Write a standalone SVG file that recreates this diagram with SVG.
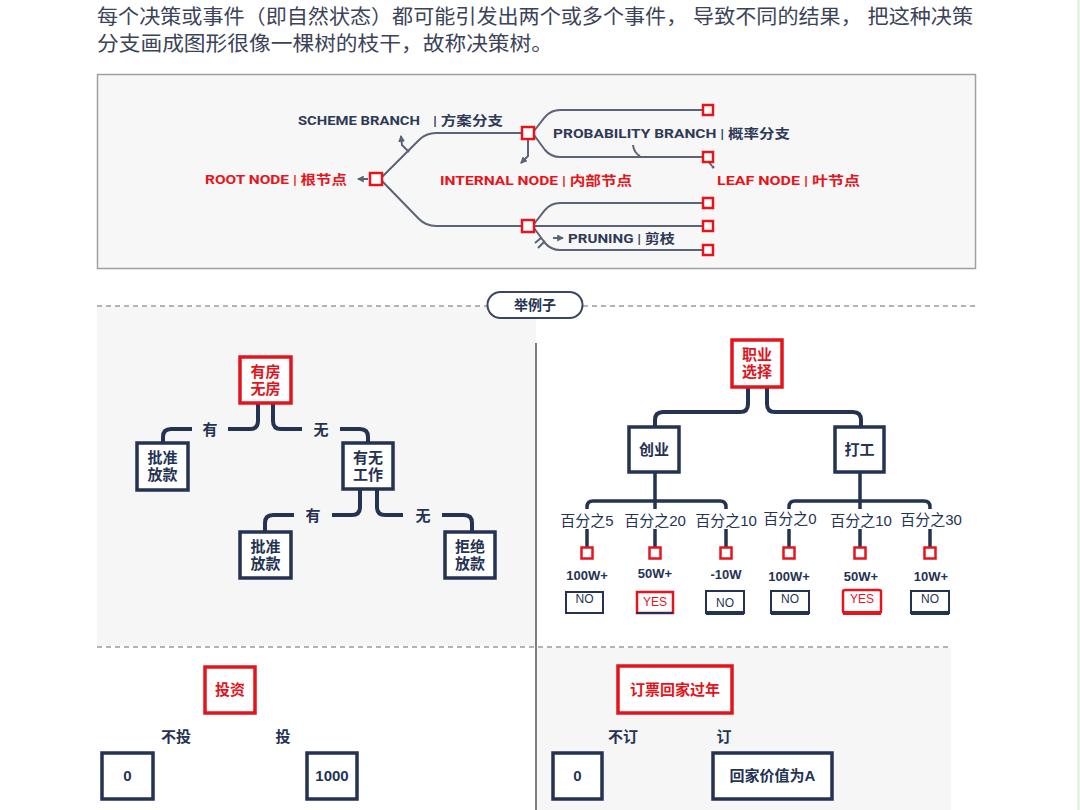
<svg xmlns="http://www.w3.org/2000/svg" width="1080" height="810" viewBox="0 0 1080 810">
<defs>
<marker id="ah" viewBox="0 0 6 6" refX="5" refY="3" markerWidth="3.5" markerHeight="3.5" orient="auto"><path d="M0,0 L6,3 L0,6 Z" fill="#5b6477"/></marker>
<style>
.cn{font-family:"Liberation Sans","Noto Sans CJK SC",sans-serif}
.lbl{font-family:Roboto,"Liberation Sans","Noto Sans CJK SC",sans-serif;font-size:13px;font-weight:bold}
.nv{fill:#2f3a56}
.rd{fill:#e8141b}
.br{fill:none;stroke:#5b6477;stroke-width:2}
.sq{fill:#fff;stroke:#e8141b;stroke-width:2.5}
.tl{fill:none;stroke:#253353;stroke-width:4}
.tl2{fill:none;stroke:#253353;stroke-width:3.5}
.bx{fill:#fff;stroke:#253353;stroke-width:3.5}
.rbx{fill:#fff;stroke:#e3141b;stroke-width:3.5}
.bt{font-family:"Liberation Sans","Noto Sans CJK SC",sans-serif;font-size:15px;font-weight:bold;fill:#253353;text-anchor:middle}
.rbt{font-family:"Liberation Sans","Noto Sans CJK SC",sans-serif;font-size:15px;font-weight:bold;fill:#e3141b;text-anchor:middle}
.pct{font-family:"Liberation Sans","Noto Sans CJK SC",sans-serif;font-size:15px;fill:#253353;text-anchor:middle}
.val{font-family:"Liberation Sans","Noto Sans CJK SC",sans-serif;font-size:13px;font-weight:bold;fill:#253353;text-anchor:middle}
.ans{fill:#fff;stroke:#253353;stroke-width:2}
.rans{fill:#fff;stroke:#e8141b;stroke-width:2.5}
.at{font-family:"Liberation Sans",sans-serif;font-size:12px;fill:#253353;text-anchor:middle}
.rat{font-family:"Liberation Sans",sans-serif;font-size:12px;fill:#e8141b;text-anchor:middle}
.dash{stroke:#9a9a9a;stroke-width:1.5;stroke-dasharray:5 4;fill:none}
</style>
</defs>
<rect width="1080" height="810" fill="#fff"/>
<line x1="1078.5" y1="0" x2="1078.5" y2="810" stroke="#d8f0d8" stroke-width="2"/>

<!-- intro text -->
<g id="intro" class="cn" font-size="20" fill="#3b4358">
<text x="97" y="24" textLength="876" lengthAdjust="spacingAndGlyphs">每个决策或事件（即自然状态）都可能引发出两个或多个事件，  导致不同的结果，  把这种决策</text>
<text x="97" y="51" textLength="456" lengthAdjust="spacingAndGlyphs">分支画成图形很像一棵树的枝干，故称决策树。</text>
</g>

<!-- top legend diagram -->
<rect x="97.5" y="74.5" width="878" height="194" fill="#f7f7f7" stroke="#a0a0a0" stroke-width="1.5"/>
<g id="legend-connectors">
<path class="br" d="M382,177 L419,140 Q426,133 436,133 L522,133"/>
<path class="br" d="M382,181 L419,219 Q426,226 436,226 L522,226"/>
<path class="br" d="M534,131 L545,117 Q551,110 560,110 L703,110"/>
<path class="br" d="M534,135 L545,150 Q551,157 560,157 L703,157"/>
<path class="br" d="M534,224 L545,210 Q551,203 560,203 L703,203"/>
<path class="br" d="M534,226 L703,226"/>
<path class="br" d="M534,228 L545,243 Q551,250 560,250 L703,250"/>
<path class="br" d="M409,152 L402,145 L401,136" marker-end="url(#ah)" stroke-width="1.5"/>
<path class="br" d="M528,139 L528,156 L521,163" marker-end="url(#ah)" stroke-width="1.5"/>
<path class="br" d="M633,145 Q634,153 640,156" stroke-width="1.5"/>
<path class="br" d="M708,161 L712,166" stroke-width="1.5"/>
<circle cx="713" cy="167" r="1.5" fill="#5b6477"/>
<path class="br" d="M368,179 L358,179" marker-end="url(#ah)" stroke-width="1.5"/>
<path class="br" d="M535,243 L541,238 M538,248 L545,241" stroke-width="1.3"/>
<path class="br" d="M553,238 L563,238" marker-end="url(#ah)" stroke-width="1.5"/>
</g>
<g id="legend-root"><rect class="sq" x="370" y="173" width="12" height="12"/>
<text class="lbl rd" x="205" y="184" textLength="142" lengthAdjust="spacingAndGlyphs">ROOT NODE | 根节点</text></g>
<g id="legend-internal-1"><rect class="sq" x="522" y="127" width="12" height="12"/></g>
<g id="legend-internal-2"><rect class="sq" x="522" y="220" width="12" height="12"/></g>
<g id="legend-leaves">
<rect class="sq" x="703" y="105" width="10" height="10"/>
<rect class="sq" x="703" y="152" width="10" height="10"/>
<rect class="sq" x="703" y="198" width="10" height="10"/>
<rect class="sq" x="703" y="221" width="10" height="10"/>
<rect class="sq" x="703" y="245" width="10" height="10"/>
</g>
<g id="legend-labels">
<text class="lbl nv" x="298" y="125" textLength="122" lengthAdjust="spacingAndGlyphs">SCHEME BRANCH</text>
<text class="lbl nv" x="433" y="125" font-size="14" textLength="70" lengthAdjust="spacingAndGlyphs">| 方案分支</text>
<text class="lbl rd" x="440" y="185" textLength="192" lengthAdjust="spacingAndGlyphs">INTERNAL NODE  | 内部节点</text>
<text class="lbl nv" x="553" y="138" textLength="237" lengthAdjust="spacingAndGlyphs">PROBABILITY BRANCH | 概率分支</text>
<text class="lbl rd" x="717" y="185" textLength="143" lengthAdjust="spacingAndGlyphs">LEAF  NODE | 叶节点</text>
<text class="lbl nv" x="568" y="243" textLength="107" lengthAdjust="spacingAndGlyphs">PRUNING | 剪枝</text>
</g>

<!-- example section backgrounds -->
<rect x="97" y="307" width="439" height="339" fill="#f6f6f7"/>
<rect x="537" y="648" width="414" height="162" fill="#f6f6f7"/>
<path class="dash" d="M97,306 L487,306 M583,306 L976,306"/>
<path class="dash" d="M97,647 L950,647"/>
<line x1="536" y1="343" x2="536" y2="810" stroke="#555" stroke-width="1.5"/>
<g id="example-title">
<rect x="487.5" y="292" width="95" height="26" rx="13" fill="#fff" stroke="#3a4660" stroke-width="2"/>
<text class="cn" x="535" y="310" font-size="14" font-weight="bold" fill="#253353" text-anchor="middle">举例子</text>
</g>

<!-- left tree -->
<g id="left-tree-connectors">
<path class="tl" d="M258,403 L258,421 Q258,429 250,429 L228,429"/>
<path class="tl" d="M192,429 L171,429 Q163,429 163,437 L163,443"/>
<path class="tl" d="M273,403 L273,421 Q273,429 281,429 L302,429"/>
<path class="tl" d="M340,429 L360,429 Q368,429 368,437 L368,443"/>
<path class="tl" d="M360,489 L360,507 Q360,515 352,515 L332,515"/>
<path class="tl" d="M294,515 L273,515 Q265,515 265,523 L265,532"/>
<path class="tl" d="M377,489 L377,507 Q377,515 385,515 L403,515"/>
<path class="tl" d="M442,515 L464,515 Q472,515 472,523 L472,532"/>
<text class="bt" x="210" y="435" font-size="17">有</text>
<text class="bt" x="321" y="435" font-size="17">无</text>
<text class="bt" x="313" y="521" font-size="17">有</text>
<text class="bt" x="423" y="521" font-size="17">无</text>
</g>
<g id="n-house"><rect class="rbx" x="240" y="357" width="51" height="46"/>
<text class="rbt" x="265.5" y="377">有房</text><text class="rbt" x="265.5" y="394">无房</text></g>
<g id="n-approve1"><rect class="bx" x="137" y="443" width="51" height="47"/>
<text class="bt" x="162.5" y="463">批准</text><text class="bt" x="162.5" y="480">放款</text></g>
<g id="n-job"><rect class="bx" x="343" y="443" width="50" height="46"/>
<text class="bt" x="368" y="463">有无</text><text class="bt" x="368" y="480">工作</text></g>
<g id="n-approve2"><rect class="bx" x="240" y="532" width="51" height="46"/>
<text class="bt" x="265.5" y="552">批准</text><text class="bt" x="265.5" y="569">放款</text></g>
<g id="n-reject"><rect class="bx" x="445" y="532" width="50" height="46"/>
<text class="bt" x="470" y="552">拒绝</text><text class="bt" x="470" y="569">放款</text></g>

<!-- right tree -->
<g id="right-tree-connectors">
<path class="tl" d="M748,387 L748,404 Q748,412 740,412 L663,412 Q655,412 655,420 L655,427"/>
<path class="tl" d="M767,387 L767,404 Q767,412 775,412 L853,412 Q861,412 861,420 L861,427"/>
<path class="tl2" d="M655,472 L655,509 M587,509 L587,507 Q587,501 593,501 L720,501 Q726,501 726,507 L726,509"/>
<path class="tl2" d="M860,472 L860,509 M789,509 L789,507 Q789,501 795,501 L924,501 Q930,501 930,507 L930,509"/>
<path class="tl2" d="M587,529 L587,547 M655,529 L655,547 M726,529 L726,547 M789,529 L789,547 M860,529 L860,547 M930,529 L930,547"/>
</g>
<g id="n-career"><rect class="rbx" x="732" y="340" width="50" height="47"/>
<text class="rbt" x="757" y="360">职业</text><text class="rbt" x="757" y="377">选择</text></g>
<g id="n-startup"><rect class="bx" x="629" y="427" width="50" height="45"/>
<text class="bt" x="654" y="455">创业</text></g>
<g id="n-work"><rect class="bx" x="835" y="427" width="49" height="45"/>
<text class="bt" x="859.5" y="455">打工</text></g>
<g id="pct-labels">
<text class="pct" x="587" y="526">百分之5</text>
<text class="pct" x="655" y="526">百分之20</text>
<text class="pct" x="726" y="526">百分之10</text>
<text class="pct" x="790" y="524">百分之0</text>
<text class="pct" x="861" y="526">百分之10</text>
<text class="pct" x="931" y="525">百分之30</text>
</g>
<g id="outcomes">
<rect class="sq" x="581.5" y="547.5" width="11" height="11"/>
<rect class="sq" x="649.5" y="547.5" width="11" height="11"/>
<rect class="sq" x="720.5" y="547.5" width="11" height="11"/>
<rect class="sq" x="783.5" y="547.5" width="11" height="11"/>
<rect class="sq" x="854.5" y="547.5" width="11" height="11"/>
<rect class="sq" x="924.5" y="547.5" width="11" height="11"/>
<text class="val" x="587" y="580">100W+</text>
<text class="val" x="655" y="578">50W+</text>
<text class="val" x="726" y="579">-10W</text>
<text class="val" x="789" y="581">100W+</text>
<text class="val" x="861" y="581">50W+</text>
<text class="val" x="931" y="581">10W+</text>
</g>
<g id="answers">
<rect class="ans" x="566" y="592" width="37" height="21"/><line x1="566" y1="613" x2="603" y2="613" stroke="#253353" stroke-width="2"/>
<text class="at" x="584.5" y="603">NO</text>
<rect class="rans" x="637" y="592" width="36" height="21"/><line x1="636" y1="613" x2="673" y2="613" stroke="#253353" stroke-width="2"/>
<text class="rat" x="655" y="606">YES</text>
<rect class="ans" x="706" y="591" width="38" height="22"/><line x1="706" y1="613" x2="744" y2="613" stroke="#253353" stroke-width="4"/>
<text class="at" x="725" y="607">NO</text>
<rect class="ans" x="771" y="591" width="38" height="22"/><line x1="771" y1="613" x2="809" y2="613" stroke="#253353" stroke-width="4"/>
<text class="at" x="790" y="603">NO</text>
<rect class="rans" x="843" y="590" width="38" height="23" rx="2"/><line x1="843" y1="613" x2="881" y2="613" stroke="#e8141b" stroke-width="4"/>
<text class="rat" x="862" y="603">YES</text>
<rect class="ans" x="911" y="591" width="38" height="22"/><line x1="911" y1="613" x2="949" y2="613" stroke="#253353" stroke-width="4"/>
<text class="at" x="930" y="603">NO</text>
</g>

<!-- bottom left -->
<g id="n-invest"><rect class="rbx" x="205" y="667" width="50" height="46"/>
<text class="rbt" x="230" y="695" font-size="14">投资</text></g>
<g id="bl-labels">
<text class="bt" x="176" y="742" font-size="16">不投</text>
<text class="bt" x="283" y="742" font-size="16">投</text>
</g>
<g id="n-zero1"><rect class="bx" x="102" y="753" width="51" height="46"/>
<text class="bt" x="127.5" y="781" font-size="13">0</text></g>
<g id="n-1000"><rect class="bx" x="307" y="753" width="50" height="46"/>
<text class="bt" x="332" y="781" font-size="13">1000</text></g>

<!-- bottom right -->
<g id="n-ticket"><rect class="rbx" x="618" y="666" width="114" height="47"/>
<text class="rbt" x="675" y="695">订票回家过年</text></g>
<g id="br-labels">
<text class="bt" x="623" y="742" font-size="16">不订</text>
<text class="bt" x="724" y="742" font-size="16">订</text>
</g>
<g id="n-zero2"><rect class="bx" x="553" y="753" width="49" height="46"/>
<text class="bt" x="577.5" y="781" font-size="14">0</text></g>
<g id="n-home"><rect class="bx" x="713" y="753" width="119" height="46"/>
<text class="bt" x="772.5" y="781" font-size="15">回家价值为A</text></g>
</svg>
